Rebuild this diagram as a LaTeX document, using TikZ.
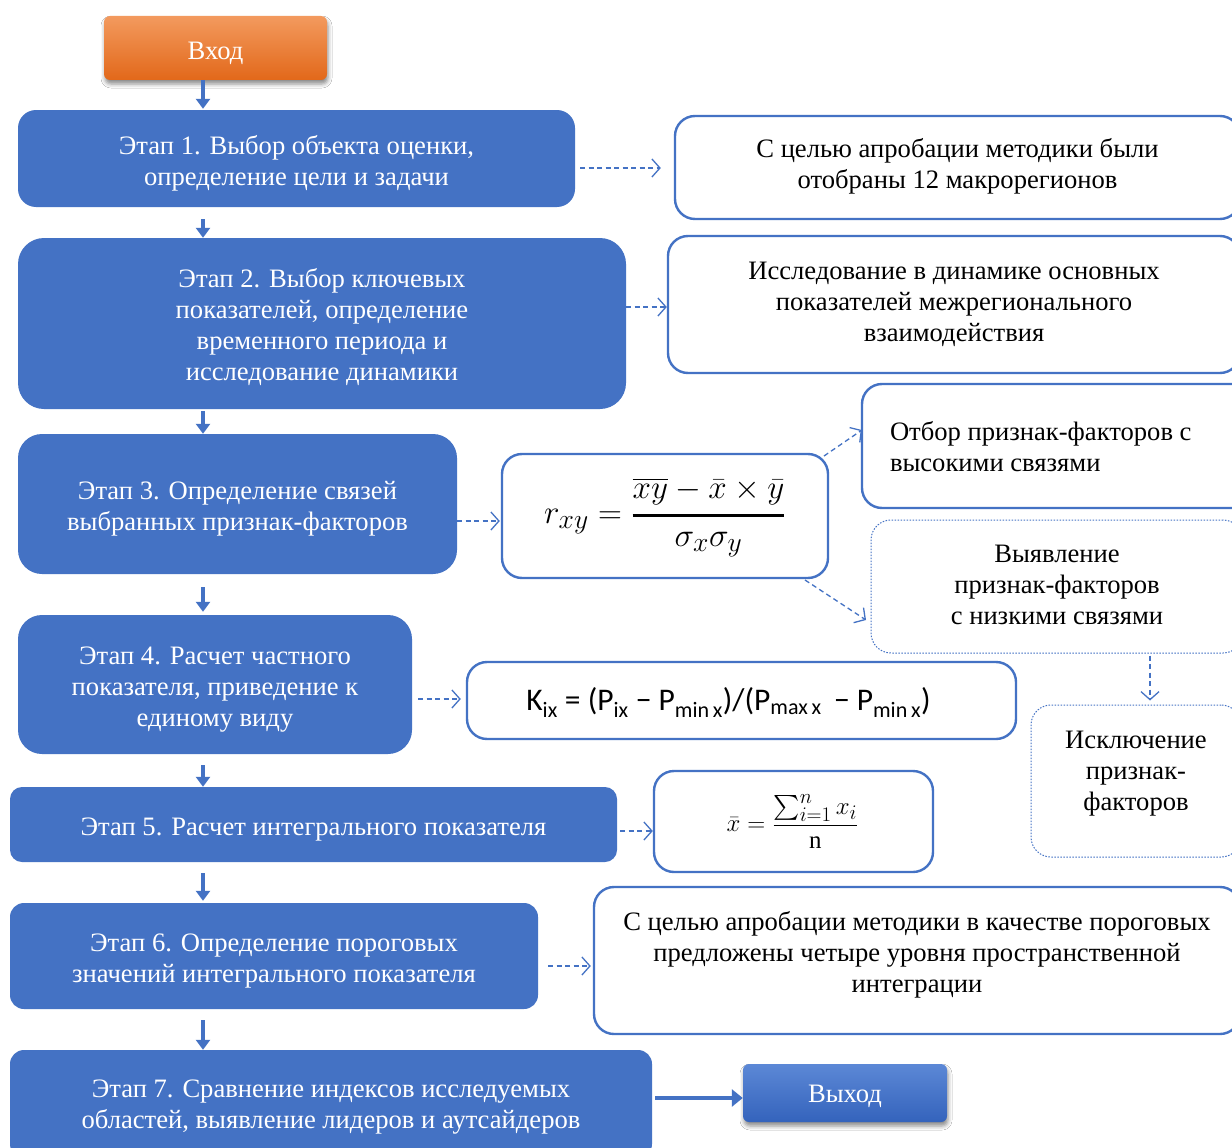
\documentclass[tikz,border=0pt]{standalone}
\usepackage{amsmath}
\usepackage{graphicx}
\usepackage{fontspec}
\setmainfont{Liberation Serif}
\newfontfamily\califont{Carlito}
\usetikzlibrary{arrows.meta,shadows.blur,calc}
\definecolor{bl}{HTML}{4472C4}
\definecolor{orTop}{HTML}{F39A5E}
\definecolor{orBot}{HTML}{E2681A}
\definecolor{blTop}{HTML}{5C88D6}
\definecolor{blBot}{HTML}{3463BC}
\newcommand{\mainfs}{\fontsize{26.6}{31}\selectfont}
\tikzset{
  stagebox/.style={fill=bl, draw=none, rounded corners=18pt, inner sep=0pt},
  wtext/.style={text=white, align=center, font=\mainfs, inner sep=0pt},
  btext/.style={text=black, align=center, font=\mainfs, inner sep=0pt},
  notebox/.style={draw=bl, line width=2.4pt, fill=white, rounded corners=20pt, inner sep=0pt},
  dotbox/.style={draw=bl, line width=1pt, dash pattern=on 1.5pt off 1.5pt, fill=white, rounded corners=20pt, inner sep=0pt},
  termbox/.style={rounded corners=6pt, inner sep=0pt,
    blur shadow={shadow xshift=1pt, shadow yshift=-4pt, shadow blur radius=4pt, shadow opacity=45}},
  flow/.style={draw=bl, line width=3.5pt, -{Triangle[length=10pt,width=14pt]}},
  dflow/.style={draw=bl, line width=1.3pt, dash pattern=on 5pt off 3.5pt, -{Straight Barb[length=8pt,width=18pt,line width=1.3pt]}}
}
\begin{document}
\begin{tikzpicture}[x=1pt,y=-1pt]
\clip (0,0) rectangle (1232,1148);
\fill[white] (0,0) rectangle (1232,1148);

% terminals
\node[termbox, top color=orTop, bottom color=orBot, minimum width=223pt, minimum height=64pt] (vhod) at (215.5,48) {};
\node[wtext] (tvhod) at ($(vhod)+(0,5)$) {Вход};
\node[termbox, top color=blTop, bottom color=blBot, minimum width=204pt, minimum height=58pt] (vyhod) at (845,1093) {};
\node[wtext] (tvyhod) at ($(vyhod)+(0,3)$) {Выход};

% stages
\node[stagebox, minimum width=557pt, minimum height=97pt] (st1) at (296.5,158.5) {};
\node[wtext] (t1) at ($(st1)+(0,4.5)$) {Этап 1. Выбор объекта оценки,\\ определение цели и задачи};
\node[stagebox, rounded corners=26pt, minimum width=608pt, minimum height=171pt] (st2) at (322,323.5) {};
\node[wtext] (t2) at ($(st2)+(0,4)$) {Этап 2. Выбор ключевых\\ показателей, определение\\ временного периода и\\ исследование динамики};
\node[stagebox, rounded corners=24pt, minimum width=439pt, minimum height=140pt] (st3) at (237.5,504) {};
\node[wtext] (t3) at ($(st3)+(0,5)$) {Этап 3. Определение связей\\ выбранных признак-факторов};
\node[stagebox, rounded corners=24pt, minimum width=394pt, minimum height=139pt] (st4) at (215,684.5) {};
\node[wtext] (t4) at ($(st4)+(0,5.5)$) {Этап 4. Расчет частного\\ показателя, приведение к\\ единому виду};
\node[stagebox, rounded corners=12pt, minimum width=607pt, minimum height=75pt] (st5) at (313.5,824.5) {};
\node[wtext] (t5) at ($(st5)+(0,5)$) {Этап 5. Расчет интегрального показателя};
\node[stagebox, rounded corners=14pt, minimum width=528pt, minimum height=106pt] (st6) at (274,956) {};
\node[wtext] (t6) at ($(st6)+(0,5)$) {Этап 6. Определение пороговых\\ значений интегрального показателя};
\node[stagebox, rounded corners=14pt, minimum width=642pt, minimum height=108pt] (st7) at (331,1104) {};
\node[wtext] (t7) at ($(st7)+(0,3)$) {Этап 7. Сравнение индексов исследуемых\\ областей, выявление лидеров и аутсайдеров};

% notes
\node[notebox, minimum width=565pt, minimum height=103pt] (a1) at (957.5,167.5) {};
\node[btext] (ta1) at ($(a1)+(0,-1.5)$) {С целью апробации методики были\\ отобраны 12 макрорегионов};
\node[notebox, minimum width=572pt, minimum height=137pt] (a2) at (954,304.5) {};
\node[btext] (ta2) at (a2) {Исследование в динамике основных\\ показателей межрегионального\\ взаимодействия};
\node[notebox, minimum width=326pt, minimum height=124pt] (f1) at (665,516) {};
\node[btext] (tf1) at ($(f1)+(0,1)$)
  {\fontsize{24.88}{30}\selectfont\scalebox{1.33}{$r_{xy} = \genfrac{}{}{2.2pt}{0}{\overline{xy} - \bar{x}\times\bar{y}}{\sigma_x\sigma_y}$}};
\node[notebox, minimum width=398pt, minimum height=124pt] (b1) at (1061,446) {};
\node[btext, text width=342pt, align=flush left] (tb1) at ($(b1)+(0,1)$) {Отбор признак-факторов с\\ высокими связями};
\node[dotbox, minimum width=372pt, minimum height=133pt] (b2) at (1057,586.5) {};
\node[btext] (tb2) at ($(b2)+(0,-2)$) {Выявление\\ признак-факторов\\ с низкими связями};
\node[dotbox, minimum width=210pt, minimum height=152pt] (b3) at (1136,781) {};
\node[btext] (tb3) at ($(b3)+(0,-7)$) {Исключение\\ признак-\\ факторов};
\node[notebox, minimum width=549pt, minimum height=77pt] (f2) at (741.5,700.5) {};
\node[btext] (tf2) at ($(f2)+(-13,2)$)
  {\califont\fontsize{31.5}{34}\selectfont K\textsubscript{ix} = (P\textsubscript{ix} − P\textsubscript{min\,x})/(P\textsubscript{max\,x} \,− P\textsubscript{min\,x})};
\node[notebox, minimum width=279pt, minimum height=101pt] (f3) at (793.5,821.5) {};
\node[btext] (tf3) at ($(f3)+(-1,0)$)
  {\fontsize{24.88}{30}\selectfont$\bar{x}\;{=}\;\dfrac{\textstyle\sum_{i=1}^{n} x_i}{\mathrm{n}}$};
\node[notebox, minimum width=646pt, minimum height=147pt] (a6) at (917,960.5) {};
\node[btext] (ta6) at ($(a6)+(0,-5.5)$) {С целью апробации методики в качестве пороговых\\ предложены четыре уровня пространственной\\ интеграции};

% main flow
\coordinate (ax) at (203,0);
\draw[flow, shorten >=1pt] (vhod.south -| ax) -- (st1.north -| ax);
\draw[flow, shorten <=12pt] (st1.south -| ax) -- (st2.north -| ax);
\draw[flow, shorten <=2pt] (st2.south -| ax) -- (st3.north -| ax);
\draw[flow, shorten <=13pt, shorten >=3pt] (st3.south -| ax) -- (st4.north -| ax);
\draw[flow, shorten <=11pt] (st4.south -| ax) -- (st5.north -| ax);
\draw[flow, shorten <=11pt, shorten >=2pt] (st5.south -| ax) -- (st6.north -| ax);
\draw[flow, shorten <=11pt] (st6.south -| ax) -- (st7.north -| ax);
\coordinate (y7) at (0,1098);
\draw[draw=bl, line width=3.5pt, -{Triangle[length=11pt,width=17pt]}, shorten <=3pt] (st7.east |- y7) -- (vyhod.west |- y7);

% dashed connectors
\coordinate (y1) at (0,168);
\draw[dflow, shorten <=5pt, shorten >=13pt] (st1.east |- y1) -- (a1.west |- y1);
\coordinate (y2) at (0,307);
\draw[dflow] (st2.east |- y2) -- (a2.west |- y2);
\coordinate (y3) at (0,521);
\draw[dflow, shorten >=1pt] (st3.east |- y3) -- (f1.west |- y3);
\coordinate (pb1) at (862,430);
\coordinate (pf1) at (824,456);
\draw[dflow] (pf1) -- (pb1);
\coordinate (pf1b) at (805,580);
\coordinate (pb2) at (866,620);
\draw[dflow] (pf1b) -- (pb2);
\coordinate (bx) at (1150,0);
\draw[dflow, shorten <=2pt, shorten >=4pt] (b2.south -| bx) -- (b3.north -| bx);
\coordinate (y4) at (0,699);
\draw[dflow, shorten <=6pt, shorten >=5pt] (st4.east |- y4) -- (f2.west |- y4);
\coordinate (y5) at (0,831);
\draw[dflow, shorten <=3pt] (st5.east |- y5) -- (f3.west |- y5);
\coordinate (y6) at (0,966);
\draw[dflow, shorten <=10pt, shorten >=2pt] (st6.east |- y6) -- (a6.west |- y6);
\end{tikzpicture}
\end{document}
